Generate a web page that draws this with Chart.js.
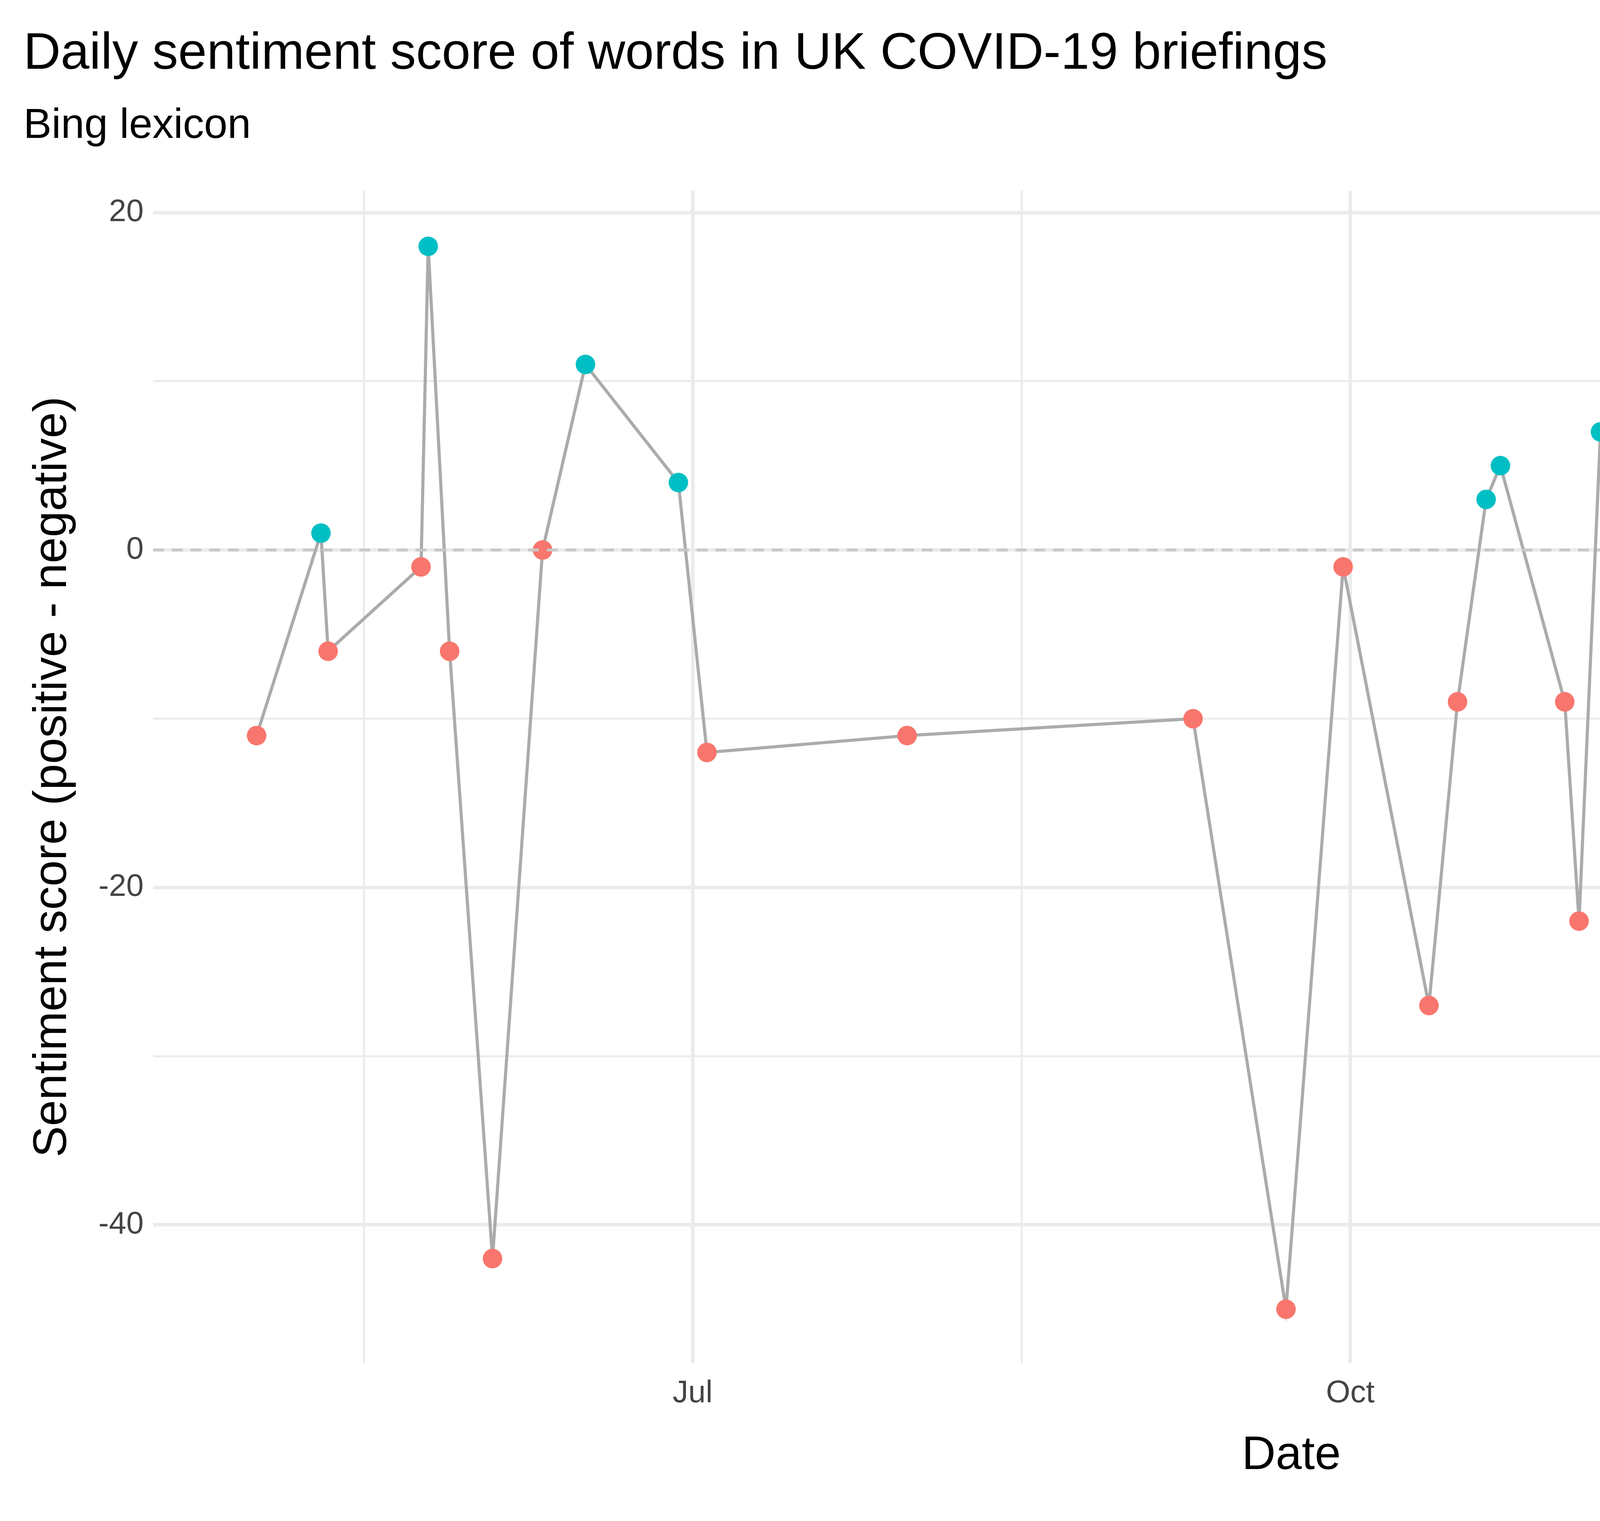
<!DOCTYPE html>
<html>
<head>
<meta charset="utf-8">
<script src="https://cdn.jsdelivr.net/npm/chart.js@4.4.1/dist/chart.umd.min.js"></script>
<style>
  html, body { margin: 0; padding: 0; background: #fff; overflow: hidden; }
  #sentimentChart { display: block; width: 6300px; height: 3893px; }
</style>
</head>
<body>
<canvas id="sentimentChart" width="6300" height="3893"></canvas>
<script>
// Daily sentiment of UK COVID-19 briefings (Bing lexicon)
const dates = [
    '2020-05-01', '2020-05-10', '2020-05-11', '2020-05-24', '2020-05-25', '2020-05-28',
    '2020-06-03', '2020-06-10', '2020-06-16', '2020-06-29', '2020-07-03', '2020-07-31',
    '2020-09-09', '2020-09-22', '2020-09-30', '2020-10-12', '2020-10-16', '2020-10-20',
    '2020-10-22', '2020-10-31', '2020-11-02', '2020-11-05', '2020-11-09', '2020-11-23',
    '2020-11-26', '2020-12-02', '2020-12-16', '2020-12-19', '2020-12-30', '2021-01-05',
    '2021-01-07', '2021-01-15', '2021-01-22', '2021-01-25', '2021-01-27', '2021-02-02',
    '2021-02-09', '2021-02-14'
];
const scores = [
    -11, 1, -6, -1, 18, -6,
    -42, 0, 11, 4, -12, -11,
    -10, -45, -1, -27, -9, 3,
    5, -9, -22, 7, 9, 11,
    -8, 0, -10, -15, -2, 0,
    3, -6, 10, -2, -2, 6,
    2, 1
];
const majorTicks = { 0: 'Jul', 92: 'Oct', 184: 'Jan' };
const xTicks = [-46, 0, 46, 92, 138, 184, 229];
const yTicks = [-40, -30, -20, -10, 0, 10, 20];

const origin = Date.UTC(2020, 6, 1);
function dayNum(s) {
    const p = s.split('-').map(Number);
    return (Date.UTC(p[0], p[1] - 1, p[2]) - origin) / 86400000;
}

const points = dates.map((d, i) => ({ x: dayNum(d), y: scores[i] }));
const pointColors = scores.map(v => v > 0 ? '#00BFC4' : '#F8766D');
const xMin = -75.5, xMax = 243;

const font = 'Liberation Sans, Arial, Helvetica, sans-serif';

new Chart(document.getElementById('sentimentChart'), {
    type: 'line',
    data: {
        datasets: [{
            data: [{ x: xMin, y: 0 }, { x: xMax, y: 0 }],
            borderColor: '#c8c8c8',
            borderWidth: 7,
            borderDash: [28, 20],
            pointRadius: 0
        }, {
            data: points,
            borderColor: '#ababab',
            borderWidth: 8,
            pointRadius: 25,
            pointBorderWidth: 0,
            pointBackgroundColor: pointColors,
            pointBorderColor: pointColors,
            tension: 0
        }]
    },
    options: {
        responsive: false,
        devicePixelRatio: 1,
        animation: false,
        layout: { padding: { left: 60, right: 80, top: 60, bottom: 90 } },
        plugins: {
            legend: { display: false },
            tooltip: { enabled: false },
            title: {
                display: true,
                text: 'Daily sentiment score of words in UK COVID-19 briefings',
                align: 'start',
                color: '#000',
                font: { family: font, size: 132, weight: 'normal' },
                padding: { top: 0, bottom: 40 }
            },
            subtitle: {
                display: true,
                text: 'Bing lexicon',
                align: 'start',
                color: '#000',
                font: { family: font, size: 108 },
                padding: { bottom: 100 }
            }
        },
        scales: {
            x: {
                type: 'linear',
                min: xMin,
                max: xMax,
                afterBuildTicks: axis => { axis.ticks = xTicks.map(v => ({ value: v })); },
                ticks: {
                    autoSkip: false,
                    maxRotation: 0,
                    color: '#444',
                    font: { family: font, size: 80 },
                    padding: 30,
                    callback: v => majorTicks[v] || ''
                },
                grid: {
                    color: '#ebebeb',
                    lineWidth: ctx => majorTicks[ctx.tick.value] !== undefined ? 9 : 5,
                    drawTicks: false
                },
                border: { display: false },
                title: {
                    display: true,
                    text: 'Date',
                    color: '#000',
                    font: { family: font, size: 120 },
                    padding: { top: 10 }
                }
            },
            y: {
                min: -48.2,
                max: 21.3,
                afterBuildTicks: axis => { axis.ticks = yTicks.map(v => ({ value: v })); },
                ticks: {
                    autoSkip: false,
                    color: '#444',
                    font: { family: font, size: 80 },
                    padding: 24,
                    callback: v => v % 20 === 0 ? String(v) : ''
                },
                grid: {
                    color: '#ebebeb',
                    lineWidth: ctx => ctx.tick.value % 20 === 0 ? 9 : 5,
                    drawTicks: false
                },
                border: { display: false },
                title: {
                    display: true,
                    text: 'Sentiment score (positive - negative)',
                    color: '#000',
                    font: { family: font, size: 120 },
                    padding: { bottom: 20 }
                }
            }
        }
    }
});
</script>
</body>
</html>
